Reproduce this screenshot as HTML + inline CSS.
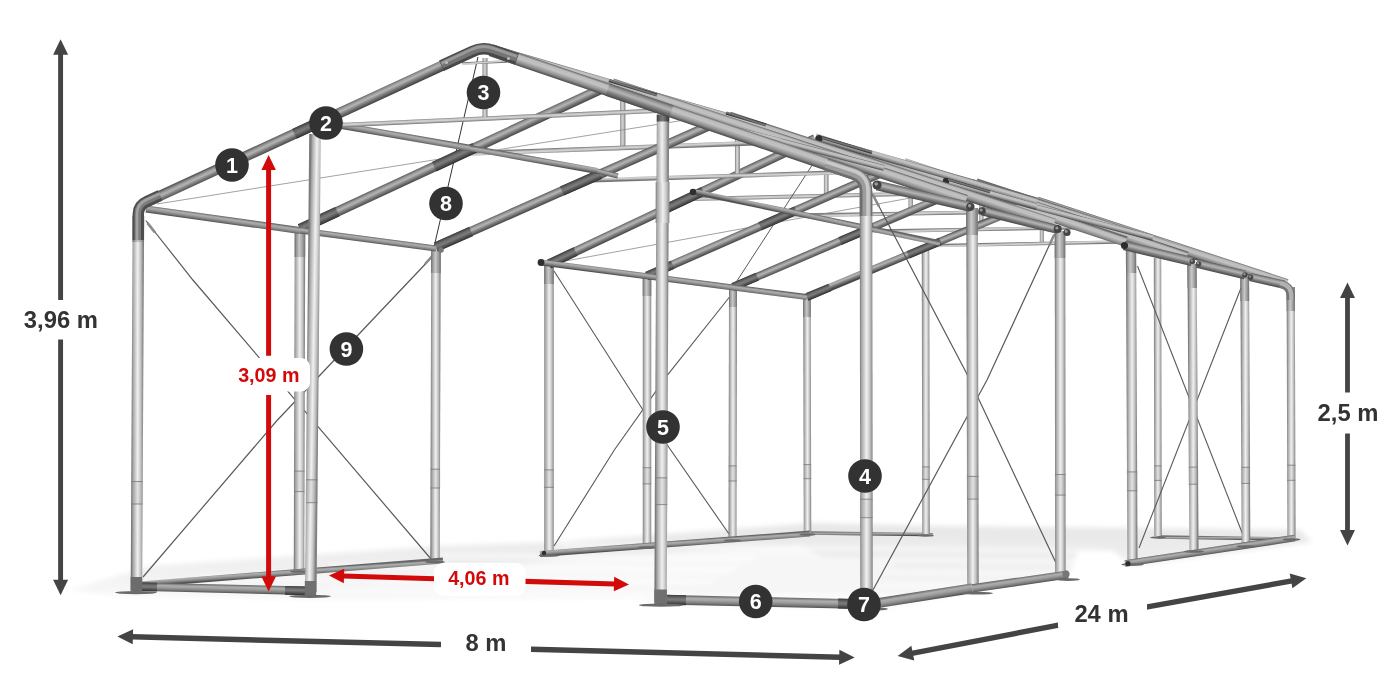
<!DOCTYPE html>
<html lang="pl"><head><meta charset="utf-8"><title>Wymiary konstrukcji hali namiotowej 8 m x 24 m</title>
<style>html,body{margin:0;padding:0;background:#fff}body{width:1400px;height:700px;overflow:hidden}svg{display:block}</style>
</head><body>
<svg width="1400" height="700" viewBox="0 0 1400 700" font-family="'Liberation Sans', Arial, Helvetica, sans-serif" font-weight="bold">
<defs><filter id="blur" x="-10%" y="-30%" width="120%" height="160%"><feGaussianBlur stdDeviation="2.5"/></filter><linearGradient id="flr" x1="0" y1="0" x2="0" y2="1"><stop offset="0" stop-color="#e6e6e6"/><stop offset="0.5" stop-color="#f0f0f0"/><stop offset="1" stop-color="#fbfbfb"/></linearGradient>
<linearGradient id="g1" gradientUnits="userSpaceOnUse" x1="866.0" y1="532.0" x2="866.0" y2="535.5"><stop offset="0" stop-color="#666"/><stop offset="0.28" stop-color="#adadad"/><stop offset="0.48" stop-color="#a2a2a2"/><stop offset="0.78" stop-color="#7c7c7c"/><stop offset="1" stop-color="#525252"/></linearGradient>
<linearGradient id="g2" gradientUnits="userSpaceOnUse" x1="929.1" y1="533.2" x2="928.9" y2="536.1"><stop offset="0" stop-color="#666"/><stop offset="0.28" stop-color="#adadad"/><stop offset="0.48" stop-color="#a2a2a2"/><stop offset="0.78" stop-color="#7c7c7c"/><stop offset="1" stop-color="#525252"/></linearGradient>
<linearGradient id="g3" gradientUnits="userSpaceOnUse" x1="1224.5" y1="536.3" x2="1224.5" y2="539.7"><stop offset="0" stop-color="#666"/><stop offset="0.28" stop-color="#adadad"/><stop offset="0.48" stop-color="#a2a2a2"/><stop offset="0.78" stop-color="#7c7c7c"/><stop offset="1" stop-color="#525252"/></linearGradient>
<linearGradient id="g4" gradientUnits="userSpaceOnUse" x1="922.0" y1="390.0" x2="929.5" y2="390.0"><stop offset="0" stop-color="#7c7c7c"/><stop offset="0.12" stop-color="#a6a6a6"/><stop offset="0.3" stop-color="#c8c8c8"/><stop offset="0.52" stop-color="#f0f0f0"/><stop offset="0.75" stop-color="#cbcbcb"/><stop offset="0.9" stop-color="#a6a6a6"/><stop offset="1" stop-color="#808080"/></linearGradient>
<linearGradient id="g5" gradientUnits="userSpaceOnUse" x1="1154.1" y1="397.0" x2="1161.4" y2="397.0"><stop offset="0" stop-color="#7c7c7c"/><stop offset="0.12" stop-color="#a6a6a6"/><stop offset="0.3" stop-color="#c8c8c8"/><stop offset="0.52" stop-color="#f0f0f0"/><stop offset="0.75" stop-color="#cbcbcb"/><stop offset="0.9" stop-color="#a6a6a6"/><stop offset="1" stop-color="#808080"/></linearGradient>
<linearGradient id="g6" gradientUnits="userSpaceOnUse" x1="1039.8" y1="226.5" x2="1043.8" y2="226.5"><stop offset="0" stop-color="#7e7e7e"/><stop offset="0.3" stop-color="#c8c8c8"/><stop offset="0.55" stop-color="#d2d2d2"/><stop offset="1" stop-color="#767676"/></linearGradient>
<linearGradient id="g7" gradientUnits="userSpaceOnUse" x1="1042.9" y1="241.8" x2="1043.0" y2="245.2"><stop offset="0" stop-color="#7e7e7e"/><stop offset="0.3" stop-color="#c8c8c8"/><stop offset="0.55" stop-color="#d2d2d2"/><stop offset="1" stop-color="#767676"/></linearGradient>
<linearGradient id="g8" gradientUnits="userSpaceOnUse" x1="979.3" y1="210.5" x2="983.5" y2="210.5"><stop offset="0" stop-color="#7e7e7e"/><stop offset="0.3" stop-color="#c8c8c8"/><stop offset="0.55" stop-color="#d2d2d2"/><stop offset="1" stop-color="#767676"/></linearGradient>
<linearGradient id="g9" gradientUnits="userSpaceOnUse" x1="982.5" y1="227.5" x2="982.6" y2="231.1"><stop offset="0" stop-color="#7e7e7e"/><stop offset="0.3" stop-color="#c8c8c8"/><stop offset="0.55" stop-color="#d2d2d2"/><stop offset="1" stop-color="#767676"/></linearGradient>
<linearGradient id="g10" gradientUnits="userSpaceOnUse" x1="908.5" y1="192.7" x2="912.9" y2="192.7"><stop offset="0" stop-color="#7e7e7e"/><stop offset="0.3" stop-color="#c8c8c8"/><stop offset="0.55" stop-color="#d2d2d2"/><stop offset="1" stop-color="#767676"/></linearGradient>
<linearGradient id="g11" gradientUnits="userSpaceOnUse" x1="911.9" y1="211.7" x2="912.0" y2="215.5"><stop offset="0" stop-color="#7e7e7e"/><stop offset="0.3" stop-color="#c8c8c8"/><stop offset="0.55" stop-color="#d2d2d2"/><stop offset="1" stop-color="#767676"/></linearGradient>
<linearGradient id="g12" gradientUnits="userSpaceOnUse" x1="823.9" y1="171.7" x2="828.5" y2="171.7"><stop offset="0" stop-color="#7e7e7e"/><stop offset="0.3" stop-color="#c8c8c8"/><stop offset="0.55" stop-color="#d2d2d2"/><stop offset="1" stop-color="#767676"/></linearGradient>
<linearGradient id="g13" gradientUnits="userSpaceOnUse" x1="827.5" y1="193.8" x2="827.6" y2="197.8"><stop offset="0" stop-color="#7e7e7e"/><stop offset="0.3" stop-color="#c8c8c8"/><stop offset="0.55" stop-color="#d2d2d2"/><stop offset="1" stop-color="#767676"/></linearGradient>
<linearGradient id="g14" gradientUnits="userSpaceOnUse" x1="1287.0" y1="412.5" x2="1295.2" y2="412.5"><stop offset="0" stop-color="#7c7c7c"/><stop offset="0.12" stop-color="#a6a6a6"/><stop offset="0.3" stop-color="#c8c8c8"/><stop offset="0.52" stop-color="#f0f0f0"/><stop offset="0.75" stop-color="#cbcbcb"/><stop offset="0.9" stop-color="#a6a6a6"/><stop offset="1" stop-color="#808080"/></linearGradient>
<linearGradient id="g15" gradientUnits="userSpaceOnUse" x1="1286.6" y1="299.0" x2="1294.8" y2="299.0"><stop offset="0" stop-color="#6a6a6a"/><stop offset="0.2" stop-color="#a0a0a0"/><stop offset="0.45" stop-color="#c8c8c8"/><stop offset="0.72" stop-color="#a4a4a4"/><stop offset="1" stop-color="#707070"/></linearGradient>
<linearGradient id="g16" gradientUnits="userSpaceOnUse" x1="1241.0" y1="411.0" x2="1249.7" y2="411.0"><stop offset="0" stop-color="#7c7c7c"/><stop offset="0.12" stop-color="#a6a6a6"/><stop offset="0.3" stop-color="#c8c8c8"/><stop offset="0.52" stop-color="#f0f0f0"/><stop offset="0.75" stop-color="#cbcbcb"/><stop offset="0.9" stop-color="#a6a6a6"/><stop offset="1" stop-color="#808080"/></linearGradient>
<linearGradient id="g17" gradientUnits="userSpaceOnUse" x1="1240.4" y1="289.0" x2="1249.1" y2="289.0"><stop offset="0" stop-color="#6a6a6a"/><stop offset="0.2" stop-color="#a0a0a0"/><stop offset="0.45" stop-color="#c8c8c8"/><stop offset="0.72" stop-color="#a4a4a4"/><stop offset="1" stop-color="#707070"/></linearGradient>
<linearGradient id="g18" gradientUnits="userSpaceOnUse" x1="1188.4" y1="407.0" x2="1197.6" y2="407.0"><stop offset="0" stop-color="#7c7c7c"/><stop offset="0.12" stop-color="#a6a6a6"/><stop offset="0.3" stop-color="#c8c8c8"/><stop offset="0.52" stop-color="#f0f0f0"/><stop offset="0.75" stop-color="#cbcbcb"/><stop offset="0.9" stop-color="#a6a6a6"/><stop offset="1" stop-color="#808080"/></linearGradient>
<linearGradient id="g19" gradientUnits="userSpaceOnUse" x1="1187.5" y1="276.0" x2="1196.7" y2="276.0"><stop offset="0" stop-color="#6a6a6a"/><stop offset="0.2" stop-color="#a0a0a0"/><stop offset="0.45" stop-color="#c8c8c8"/><stop offset="0.72" stop-color="#a4a4a4"/><stop offset="1" stop-color="#707070"/></linearGradient>
<linearGradient id="g20" gradientUnits="userSpaceOnUse" x1="1126.7" y1="406.0" x2="1136.8" y2="406.0"><stop offset="0" stop-color="#7c7c7c"/><stop offset="0.12" stop-color="#a6a6a6"/><stop offset="0.3" stop-color="#c8c8c8"/><stop offset="0.52" stop-color="#f0f0f0"/><stop offset="0.75" stop-color="#cbcbcb"/><stop offset="0.9" stop-color="#a6a6a6"/><stop offset="1" stop-color="#808080"/></linearGradient>
<linearGradient id="g21" gradientUnits="userSpaceOnUse" x1="1126.0" y1="261.0" x2="1136.2" y2="261.0"><stop offset="0" stop-color="#6a6a6a"/><stop offset="0.2" stop-color="#a0a0a0"/><stop offset="0.45" stop-color="#c8c8c8"/><stop offset="0.72" stop-color="#a4a4a4"/><stop offset="1" stop-color="#707070"/></linearGradient>
<linearGradient id="g22" gradientUnits="userSpaceOnUse" x1="803.5" y1="415.0" x2="811.0" y2="415.0"><stop offset="0" stop-color="#7c7c7c"/><stop offset="0.12" stop-color="#a6a6a6"/><stop offset="0.3" stop-color="#c8c8c8"/><stop offset="0.52" stop-color="#f0f0f0"/><stop offset="0.75" stop-color="#cbcbcb"/><stop offset="0.9" stop-color="#a6a6a6"/><stop offset="1" stop-color="#808080"/></linearGradient>
<linearGradient id="g23" gradientUnits="userSpaceOnUse" x1="803.3" y1="307.0" x2="810.8" y2="307.0"><stop offset="0" stop-color="#6a6a6a"/><stop offset="0.2" stop-color="#a0a0a0"/><stop offset="0.45" stop-color="#c8c8c8"/><stop offset="0.72" stop-color="#a4a4a4"/><stop offset="1" stop-color="#707070"/></linearGradient>
<linearGradient id="g24" gradientUnits="userSpaceOnUse" x1="728.8" y1="413.0" x2="736.7" y2="413.0"><stop offset="0" stop-color="#7c7c7c"/><stop offset="0.12" stop-color="#a6a6a6"/><stop offset="0.3" stop-color="#c8c8c8"/><stop offset="0.52" stop-color="#f0f0f0"/><stop offset="0.75" stop-color="#cbcbcb"/><stop offset="0.9" stop-color="#a6a6a6"/><stop offset="1" stop-color="#808080"/></linearGradient>
<linearGradient id="g25" gradientUnits="userSpaceOnUse" x1="729.0" y1="297.0" x2="737.0" y2="297.0"><stop offset="0" stop-color="#6a6a6a"/><stop offset="0.2" stop-color="#a0a0a0"/><stop offset="0.45" stop-color="#c8c8c8"/><stop offset="0.72" stop-color="#a4a4a4"/><stop offset="1" stop-color="#707070"/></linearGradient>
<linearGradient id="g26" gradientUnits="userSpaceOnUse" x1="642.8" y1="411.0" x2="651.2" y2="411.0"><stop offset="0" stop-color="#7c7c7c"/><stop offset="0.12" stop-color="#a6a6a6"/><stop offset="0.3" stop-color="#c8c8c8"/><stop offset="0.52" stop-color="#f0f0f0"/><stop offset="0.75" stop-color="#cbcbcb"/><stop offset="0.9" stop-color="#a6a6a6"/><stop offset="1" stop-color="#808080"/></linearGradient>
<linearGradient id="g27" gradientUnits="userSpaceOnUse" x1="642.8" y1="286.0" x2="651.2" y2="286.0"><stop offset="0" stop-color="#6a6a6a"/><stop offset="0.2" stop-color="#a0a0a0"/><stop offset="0.45" stop-color="#c8c8c8"/><stop offset="0.72" stop-color="#a4a4a4"/><stop offset="1" stop-color="#707070"/></linearGradient>
<linearGradient id="g28" gradientUnits="userSpaceOnUse" x1="544.2" y1="409.0" x2="553.8" y2="409.0"><stop offset="0" stop-color="#7c7c7c"/><stop offset="0.12" stop-color="#a6a6a6"/><stop offset="0.3" stop-color="#c8c8c8"/><stop offset="0.52" stop-color="#f0f0f0"/><stop offset="0.75" stop-color="#cbcbcb"/><stop offset="0.9" stop-color="#a6a6a6"/><stop offset="1" stop-color="#808080"/></linearGradient>
<linearGradient id="g29" gradientUnits="userSpaceOnUse" x1="544.2" y1="274.0" x2="553.8" y2="274.0"><stop offset="0" stop-color="#6a6a6a"/><stop offset="0.2" stop-color="#a0a0a0"/><stop offset="0.45" stop-color="#c8c8c8"/><stop offset="0.72" stop-color="#a4a4a4"/><stop offset="1" stop-color="#707070"/></linearGradient>
<linearGradient id="g30" gradientUnits="userSpaceOnUse" x1="674.8" y1="540.8" x2="675.2" y2="546.7"><stop offset="0" stop-color="#666"/><stop offset="0.28" stop-color="#adadad"/><stop offset="0.48" stop-color="#a2a2a2"/><stop offset="0.78" stop-color="#7c7c7c"/><stop offset="1" stop-color="#525252"/></linearGradient>
<linearGradient id="g31" gradientUnits="userSpaceOnUse" x1="1209.5" y1="547.4" x2="1210.5" y2="554.1"><stop offset="0" stop-color="#666"/><stop offset="0.28" stop-color="#adadad"/><stop offset="0.48" stop-color="#a2a2a2"/><stop offset="0.78" stop-color="#7c7c7c"/><stop offset="1" stop-color="#525252"/></linearGradient>
<linearGradient id="g32" gradientUnits="userSpaceOnUse" x1="920.6" y1="245.5" x2="923.4" y2="252.5"><stop offset="0" stop-color="#5e5e5e"/><stop offset="0.22" stop-color="#9a9a9a"/><stop offset="0.42" stop-color="#b4b4b4"/><stop offset="0.7" stop-color="#7a7a7a"/><stop offset="1" stop-color="#474747"/></linearGradient>
<linearGradient id="g33" gradientUnits="userSpaceOnUse" x1="817.0" y1="288.6" x2="820.0" y2="295.8"><stop offset="0" stop-color="#3c3c3c"/><stop offset="0.3" stop-color="#6e6e6e"/><stop offset="0.5" stop-color="#7c7c7c"/><stop offset="1" stop-color="#303030"/></linearGradient>
<linearGradient id="g34" gradientUnits="userSpaceOnUse" x1="922.8" y1="244.4" x2="925.8" y2="251.7"><stop offset="0" stop-color="#3c3c3c"/><stop offset="0.3" stop-color="#6e6e6e"/><stop offset="0.5" stop-color="#7c7c7c"/><stop offset="1" stop-color="#303030"/></linearGradient>
<linearGradient id="g35" gradientUnits="userSpaceOnUse" x1="852.9" y1="231.3" x2="856.1" y2="238.7"><stop offset="0" stop-color="#5e5e5e"/><stop offset="0.22" stop-color="#9a9a9a"/><stop offset="0.42" stop-color="#b4b4b4"/><stop offset="0.7" stop-color="#7a7a7a"/><stop offset="1" stop-color="#474747"/></linearGradient>
<linearGradient id="g36" gradientUnits="userSpaceOnUse" x1="743.5" y1="277.9" x2="746.8" y2="285.7"><stop offset="0" stop-color="#3c3c3c"/><stop offset="0.3" stop-color="#6e6e6e"/><stop offset="0.5" stop-color="#7c7c7c"/><stop offset="1" stop-color="#303030"/></linearGradient>
<linearGradient id="g37" gradientUnits="userSpaceOnUse" x1="855.3" y1="230.1" x2="858.6" y2="237.8"><stop offset="0" stop-color="#3c3c3c"/><stop offset="0.3" stop-color="#6e6e6e"/><stop offset="0.5" stop-color="#7c7c7c"/><stop offset="1" stop-color="#303030"/></linearGradient>
<linearGradient id="g38" gradientUnits="userSpaceOnUse" x1="773.8" y1="215.6" x2="777.2" y2="223.4"><stop offset="0" stop-color="#5e5e5e"/><stop offset="0.22" stop-color="#9a9a9a"/><stop offset="0.42" stop-color="#b4b4b4"/><stop offset="0.7" stop-color="#7a7a7a"/><stop offset="1" stop-color="#474747"/></linearGradient>
<linearGradient id="g39" gradientUnits="userSpaceOnUse" x1="658.1" y1="266.3" x2="661.6" y2="274.4"><stop offset="0" stop-color="#3c3c3c"/><stop offset="0.3" stop-color="#6e6e6e"/><stop offset="0.5" stop-color="#7c7c7c"/><stop offset="1" stop-color="#303030"/></linearGradient>
<linearGradient id="g40" gradientUnits="userSpaceOnUse" x1="776.3" y1="214.3" x2="779.9" y2="222.4"><stop offset="0" stop-color="#3c3c3c"/><stop offset="0.3" stop-color="#6e6e6e"/><stop offset="0.5" stop-color="#7c7c7c"/><stop offset="1" stop-color="#303030"/></linearGradient>
<linearGradient id="g41" gradientUnits="userSpaceOnUse" x1="680.1" y1="197.2" x2="683.9" y2="205.3"><stop offset="0" stop-color="#5e5e5e"/><stop offset="0.22" stop-color="#9a9a9a"/><stop offset="0.42" stop-color="#b4b4b4"/><stop offset="0.7" stop-color="#7a7a7a"/><stop offset="1" stop-color="#474747"/></linearGradient>
<linearGradient id="g42" gradientUnits="userSpaceOnUse" x1="560.3" y1="253.5" x2="564.3" y2="262.0"><stop offset="0" stop-color="#3c3c3c"/><stop offset="0.3" stop-color="#6e6e6e"/><stop offset="0.5" stop-color="#7c7c7c"/><stop offset="1" stop-color="#303030"/></linearGradient>
<linearGradient id="g43" gradientUnits="userSpaceOnUse" x1="682.7" y1="195.7" x2="686.7" y2="204.2"><stop offset="0" stop-color="#3c3c3c"/><stop offset="0.3" stop-color="#6e6e6e"/><stop offset="0.5" stop-color="#7c7c7c"/><stop offset="1" stop-color="#303030"/></linearGradient>
<linearGradient id="g44" gradientUnits="userSpaceOnUse" x1="674.4" y1="276.8" x2="673.6" y2="282.7"><stop offset="0" stop-color="#666"/><stop offset="0.28" stop-color="#adadad"/><stop offset="0.48" stop-color="#a2a2a2"/><stop offset="0.78" stop-color="#7c7c7c"/><stop offset="1" stop-color="#525252"/></linearGradient>
<linearGradient id="g45" gradientUnits="userSpaceOnUse" x1="817.6" y1="214.8" x2="816.4" y2="220.2"><stop offset="0" stop-color="#666"/><stop offset="0.28" stop-color="#adadad"/><stop offset="0.48" stop-color="#a2a2a2"/><stop offset="0.78" stop-color="#7c7c7c"/><stop offset="1" stop-color="#525252"/></linearGradient>
<linearGradient id="g46" gradientUnits="userSpaceOnUse" x1="1163.4" y1="238.0" x2="1160.6" y2="246.5"><stop offset="0" stop-color="#6a6a6a"/><stop offset="0.16" stop-color="#bcbcbc"/><stop offset="0.42" stop-color="#c2c2c2"/><stop offset="0.75" stop-color="#8c8c8c"/><stop offset="1" stop-color="#484848"/></linearGradient>
<linearGradient id="g47" gradientUnits="userSpaceOnUse" x1="1109.3" y1="221.7" x2="1106.4" y2="230.8"><stop offset="0" stop-color="#6a6a6a"/><stop offset="0.16" stop-color="#bcbcbc"/><stop offset="0.42" stop-color="#c2c2c2"/><stop offset="0.75" stop-color="#8c8c8c"/><stop offset="1" stop-color="#484848"/></linearGradient>
<linearGradient id="g48" gradientUnits="userSpaceOnUse" x1="1047.1" y1="205.0" x2="1043.9" y2="214.5"><stop offset="0" stop-color="#6a6a6a"/><stop offset="0.16" stop-color="#bcbcbc"/><stop offset="0.42" stop-color="#c2c2c2"/><stop offset="0.75" stop-color="#8c8c8c"/><stop offset="1" stop-color="#484848"/></linearGradient>
<linearGradient id="g49" gradientUnits="userSpaceOnUse" x1="972.2" y1="185.0" x2="968.8" y2="195.0"><stop offset="0" stop-color="#6a6a6a"/><stop offset="0.16" stop-color="#bcbcbc"/><stop offset="0.42" stop-color="#c2c2c2"/><stop offset="0.75" stop-color="#8c8c8c"/><stop offset="1" stop-color="#484848"/></linearGradient>
<linearGradient id="g50" gradientUnits="userSpaceOnUse" x1="1054.7" y1="209.3" x2="1053.3" y2="214.7"><stop offset="0" stop-color="#6a6a6a"/><stop offset="0.16" stop-color="#bcbcbc"/><stop offset="0.42" stop-color="#c2c2c2"/><stop offset="0.75" stop-color="#8c8c8c"/><stop offset="1" stop-color="#484848"/></linearGradient>
<linearGradient id="g51" gradientUnits="userSpaceOnUse" x1="929.0" y1="166.6" x2="927.0" y2="173.4"><stop offset="0" stop-color="#6a6a6a"/><stop offset="0.16" stop-color="#bcbcbc"/><stop offset="0.42" stop-color="#c2c2c2"/><stop offset="0.75" stop-color="#8c8c8c"/><stop offset="1" stop-color="#484848"/></linearGradient>
<linearGradient id="g52" gradientUnits="userSpaceOnUse" x1="992.3" y1="191.1" x2="990.7" y2="196.9"><stop offset="0" stop-color="#6a6a6a"/><stop offset="0.16" stop-color="#bcbcbc"/><stop offset="0.42" stop-color="#c2c2c2"/><stop offset="0.75" stop-color="#8c8c8c"/><stop offset="1" stop-color="#484848"/></linearGradient>
<linearGradient id="g53" gradientUnits="userSpaceOnUse" x1="1159.1" y1="248.9" x2="1156.9" y2="258.1"><stop offset="0" stop-color="#5e5e5e"/><stop offset="0.22" stop-color="#9a9a9a"/><stop offset="0.42" stop-color="#b4b4b4"/><stop offset="0.7" stop-color="#7a7a7a"/><stop offset="1" stop-color="#474747"/></linearGradient>
<linearGradient id="g54" gradientUnits="userSpaceOnUse" x1="1222.0" y1="265.0" x2="1220.0" y2="273.5"><stop offset="0" stop-color="#5e5e5e"/><stop offset="0.22" stop-color="#9a9a9a"/><stop offset="0.42" stop-color="#b4b4b4"/><stop offset="0.7" stop-color="#7a7a7a"/><stop offset="1" stop-color="#474747"/></linearGradient>
<linearGradient id="g55" gradientUnits="userSpaceOnUse" x1="1267.9" y1="276.7" x2="1266.1" y2="284.9"><stop offset="0" stop-color="#5e5e5e"/><stop offset="0.22" stop-color="#9a9a9a"/><stop offset="0.42" stop-color="#b4b4b4"/><stop offset="0.7" stop-color="#7a7a7a"/><stop offset="1" stop-color="#474747"/></linearGradient>
<linearGradient id="g56" gradientUnits="userSpaceOnUse" x1="847.4" y1="143.6" x2="846.6" y2="146.4"><stop offset="0" stop-color="#3c3c3c"/><stop offset="0.3" stop-color="#6e6e6e"/><stop offset="0.5" stop-color="#7c7c7c"/><stop offset="1" stop-color="#303030"/></linearGradient>
<linearGradient id="g57" gradientUnits="userSpaceOnUse" x1="969.4" y1="184.4" x2="968.6" y2="187.1"><stop offset="0" stop-color="#3c3c3c"/><stop offset="0.3" stop-color="#6e6e6e"/><stop offset="0.5" stop-color="#7c7c7c"/><stop offset="1" stop-color="#303030"/></linearGradient>
<linearGradient id="g58" gradientUnits="userSpaceOnUse" x1="735.0" y1="151.0" x2="739.9" y2="151.0"><stop offset="0" stop-color="#7e7e7e"/><stop offset="0.3" stop-color="#c8c8c8"/><stop offset="0.55" stop-color="#d2d2d2"/><stop offset="1" stop-color="#767676"/></linearGradient>
<linearGradient id="g59" gradientUnits="userSpaceOnUse" x1="738.8" y1="173.5" x2="738.9" y2="177.8"><stop offset="0" stop-color="#7e7e7e"/><stop offset="0.3" stop-color="#c8c8c8"/><stop offset="0.55" stop-color="#d2d2d2"/><stop offset="1" stop-color="#767676"/></linearGradient>
<linearGradient id="g60" gradientUnits="userSpaceOnUse" x1="620.2" y1="120.7" x2="625.4" y2="120.7"><stop offset="0" stop-color="#7e7e7e"/><stop offset="0.3" stop-color="#c8c8c8"/><stop offset="0.55" stop-color="#d2d2d2"/><stop offset="1" stop-color="#767676"/></linearGradient>
<linearGradient id="g61" gradientUnits="userSpaceOnUse" x1="624.3" y1="145.5" x2="624.5" y2="150.1"><stop offset="0" stop-color="#7e7e7e"/><stop offset="0.3" stop-color="#c8c8c8"/><stop offset="0.55" stop-color="#d2d2d2"/><stop offset="1" stop-color="#767676"/></linearGradient>
<linearGradient id="g62" gradientUnits="userSpaceOnUse" x1="1055.0" y1="402.5" x2="1065.4" y2="402.5"><stop offset="0" stop-color="#7c7c7c"/><stop offset="0.12" stop-color="#a6a6a6"/><stop offset="0.3" stop-color="#c8c8c8"/><stop offset="0.52" stop-color="#f0f0f0"/><stop offset="0.75" stop-color="#cbcbcb"/><stop offset="0.9" stop-color="#a6a6a6"/><stop offset="1" stop-color="#808080"/></linearGradient>
<linearGradient id="g63" gradientUnits="userSpaceOnUse" x1="1054.8" y1="244.5" x2="1065.3" y2="244.5"><stop offset="0" stop-color="#6a6a6a"/><stop offset="0.2" stop-color="#a0a0a0"/><stop offset="0.45" stop-color="#c8c8c8"/><stop offset="0.72" stop-color="#a4a4a4"/><stop offset="1" stop-color="#707070"/></linearGradient>
<linearGradient id="g64" gradientUnits="userSpaceOnUse" x1="966.8" y1="397.0" x2="978.2" y2="397.0"><stop offset="0" stop-color="#7c7c7c"/><stop offset="0.12" stop-color="#a6a6a6"/><stop offset="0.3" stop-color="#c8c8c8"/><stop offset="0.52" stop-color="#f0f0f0"/><stop offset="0.75" stop-color="#cbcbcb"/><stop offset="0.9" stop-color="#a6a6a6"/><stop offset="1" stop-color="#808080"/></linearGradient>
<linearGradient id="g65" gradientUnits="userSpaceOnUse" x1="966.3" y1="221.5" x2="977.8" y2="221.5"><stop offset="0" stop-color="#6a6a6a"/><stop offset="0.2" stop-color="#a0a0a0"/><stop offset="0.45" stop-color="#c8c8c8"/><stop offset="0.72" stop-color="#a4a4a4"/><stop offset="1" stop-color="#707070"/></linearGradient>
<linearGradient id="g66" gradientUnits="userSpaceOnUse" x1="430.8" y1="403.5" x2="440.2" y2="403.5"><stop offset="0" stop-color="#7c7c7c"/><stop offset="0.12" stop-color="#a6a6a6"/><stop offset="0.3" stop-color="#c8c8c8"/><stop offset="0.52" stop-color="#f0f0f0"/><stop offset="0.75" stop-color="#cbcbcb"/><stop offset="0.9" stop-color="#a6a6a6"/><stop offset="1" stop-color="#808080"/></linearGradient>
<linearGradient id="g67" gradientUnits="userSpaceOnUse" x1="431.2" y1="260.0" x2="440.7" y2="260.0"><stop offset="0" stop-color="#6a6a6a"/><stop offset="0.2" stop-color="#a0a0a0"/><stop offset="0.45" stop-color="#c8c8c8"/><stop offset="0.72" stop-color="#a4a4a4"/><stop offset="1" stop-color="#707070"/></linearGradient>
<linearGradient id="g68" gradientUnits="userSpaceOnUse" x1="294.3" y1="399.5" x2="304.7" y2="399.5"><stop offset="0" stop-color="#7c7c7c"/><stop offset="0.12" stop-color="#a6a6a6"/><stop offset="0.3" stop-color="#c8c8c8"/><stop offset="0.52" stop-color="#f0f0f0"/><stop offset="0.75" stop-color="#cbcbcb"/><stop offset="0.9" stop-color="#a6a6a6"/><stop offset="1" stop-color="#808080"/></linearGradient>
<linearGradient id="g69" gradientUnits="userSpaceOnUse" x1="294.7" y1="243.0" x2="305.2" y2="243.0"><stop offset="0" stop-color="#6a6a6a"/><stop offset="0.2" stop-color="#a0a0a0"/><stop offset="0.45" stop-color="#c8c8c8"/><stop offset="0.72" stop-color="#a4a4a4"/><stop offset="1" stop-color="#707070"/></linearGradient>
<linearGradient id="g70" gradientUnits="userSpaceOnUse" x1="291.3" y1="569.5" x2="291.7" y2="575.5"><stop offset="0" stop-color="#666"/><stop offset="0.28" stop-color="#adadad"/><stop offset="0.48" stop-color="#a2a2a2"/><stop offset="0.78" stop-color="#7c7c7c"/><stop offset="1" stop-color="#525252"/></linearGradient>
<linearGradient id="g71" gradientUnits="userSpaceOnUse" x1="922.2" y1="591.2" x2="923.8" y2="600.8"><stop offset="0" stop-color="#666"/><stop offset="0.28" stop-color="#adadad"/><stop offset="0.48" stop-color="#a2a2a2"/><stop offset="0.78" stop-color="#7c7c7c"/><stop offset="1" stop-color="#525252"/></linearGradient>
<linearGradient id="g72" gradientUnits="userSpaceOnUse" x1="1019.4" y1="577.4" x2="1020.6" y2="585.5"><stop offset="0" stop-color="#666"/><stop offset="0.28" stop-color="#adadad"/><stop offset="0.48" stop-color="#a2a2a2"/><stop offset="0.78" stop-color="#7c7c7c"/><stop offset="1" stop-color="#525252"/></linearGradient>
<linearGradient id="g73" gradientUnits="userSpaceOnUse" x1="580.6" y1="177.7" x2="584.4" y2="186.3"><stop offset="0" stop-color="#5e5e5e"/><stop offset="0.22" stop-color="#9a9a9a"/><stop offset="0.42" stop-color="#b4b4b4"/><stop offset="0.7" stop-color="#7a7a7a"/><stop offset="1" stop-color="#474747"/></linearGradient>
<linearGradient id="g74" gradientUnits="userSpaceOnUse" x1="451.6" y1="234.7" x2="455.6" y2="243.7"><stop offset="0" stop-color="#3c3c3c"/><stop offset="0.3" stop-color="#6e6e6e"/><stop offset="0.5" stop-color="#7c7c7c"/><stop offset="1" stop-color="#303030"/></linearGradient>
<linearGradient id="g75" gradientUnits="userSpaceOnUse" x1="579.0" y1="178.1" x2="583.0" y2="187.2"><stop offset="0" stop-color="#3c3c3c"/><stop offset="0.3" stop-color="#6e6e6e"/><stop offset="0.5" stop-color="#7c7c7c"/><stop offset="1" stop-color="#303030"/></linearGradient>
<linearGradient id="g76" gradientUnits="userSpaceOnUse" x1="453.9" y1="152.0" x2="458.1" y2="161.0"><stop offset="0" stop-color="#5e5e5e"/><stop offset="0.22" stop-color="#9a9a9a"/><stop offset="0.42" stop-color="#b4b4b4"/><stop offset="0.7" stop-color="#7a7a7a"/><stop offset="1" stop-color="#474747"/></linearGradient>
<linearGradient id="g77" gradientUnits="userSpaceOnUse" x1="316.5" y1="215.6" x2="320.9" y2="225.0"><stop offset="0" stop-color="#3c3c3c"/><stop offset="0.3" stop-color="#6e6e6e"/><stop offset="0.5" stop-color="#7c7c7c"/><stop offset="1" stop-color="#303030"/></linearGradient>
<linearGradient id="g78" gradientUnits="userSpaceOnUse" x1="452.2" y1="152.5" x2="456.6" y2="161.9"><stop offset="0" stop-color="#3c3c3c"/><stop offset="0.3" stop-color="#6e6e6e"/><stop offset="0.5" stop-color="#7c7c7c"/><stop offset="1" stop-color="#303030"/></linearGradient>
<linearGradient id="g79" gradientUnits="userSpaceOnUse" x1="395.6" y1="131.7" x2="394.4" y2="138.3"><stop offset="0" stop-color="#666"/><stop offset="0.28" stop-color="#adadad"/><stop offset="0.48" stop-color="#a2a2a2"/><stop offset="0.78" stop-color="#7c7c7c"/><stop offset="1" stop-color="#525252"/></linearGradient>
<linearGradient id="g80" gradientUnits="userSpaceOnUse" x1="534.0" y1="156.5" x2="533.0" y2="162.5"><stop offset="0" stop-color="#666"/><stop offset="0.28" stop-color="#adadad"/><stop offset="0.48" stop-color="#a2a2a2"/><stop offset="0.78" stop-color="#7c7c7c"/><stop offset="1" stop-color="#525252"/></linearGradient>
<linearGradient id="g81" gradientUnits="userSpaceOnUse" x1="608.1" y1="171.1" x2="606.9" y2="175.9"><stop offset="0" stop-color="#666"/><stop offset="0.28" stop-color="#adadad"/><stop offset="0.48" stop-color="#a2a2a2"/><stop offset="0.78" stop-color="#7c7c7c"/><stop offset="1" stop-color="#525252"/></linearGradient>
<linearGradient id="g82" gradientUnits="userSpaceOnUse" x1="223.5" y1="216.3" x2="222.5" y2="223.2"><stop offset="0" stop-color="#666"/><stop offset="0.28" stop-color="#adadad"/><stop offset="0.48" stop-color="#a2a2a2"/><stop offset="0.78" stop-color="#7c7c7c"/><stop offset="1" stop-color="#525252"/></linearGradient>
<linearGradient id="g83" gradientUnits="userSpaceOnUse" x1="368.4" y1="236.5" x2="367.6" y2="242.5"><stop offset="0" stop-color="#666"/><stop offset="0.28" stop-color="#adadad"/><stop offset="0.48" stop-color="#a2a2a2"/><stop offset="0.78" stop-color="#7c7c7c"/><stop offset="1" stop-color="#525252"/></linearGradient>
<linearGradient id="g84" gradientUnits="userSpaceOnUse" x1="552.9" y1="62.4" x2="551.1" y2="68.6"><stop offset="0" stop-color="#6a6a6a"/><stop offset="0.16" stop-color="#bcbcbc"/><stop offset="0.42" stop-color="#c2c2c2"/><stop offset="0.75" stop-color="#8c8c8c"/><stop offset="1" stop-color="#484848"/></linearGradient>
<linearGradient id="g85" gradientUnits="userSpaceOnUse" x1="671.4" y1="96.6" x2="669.6" y2="102.9"><stop offset="0" stop-color="#6a6a6a"/><stop offset="0.16" stop-color="#bcbcbc"/><stop offset="0.42" stop-color="#c2c2c2"/><stop offset="0.75" stop-color="#8c8c8c"/><stop offset="1" stop-color="#484848"/></linearGradient>
<linearGradient id="g86" gradientUnits="userSpaceOnUse" x1="893.2" y1="165.3" x2="889.8" y2="175.7"><stop offset="0" stop-color="#6a6a6a"/><stop offset="0.16" stop-color="#bcbcbc"/><stop offset="0.42" stop-color="#c2c2c2"/><stop offset="0.75" stop-color="#8c8c8c"/><stop offset="1" stop-color="#484848"/></linearGradient>
<linearGradient id="g87" gradientUnits="userSpaceOnUse" x1="790.8" y1="136.8" x2="787.2" y2="147.7"><stop offset="0" stop-color="#6a6a6a"/><stop offset="0.16" stop-color="#bcbcbc"/><stop offset="0.42" stop-color="#c2c2c2"/><stop offset="0.75" stop-color="#8c8c8c"/><stop offset="1" stop-color="#484848"/></linearGradient>
<linearGradient id="g88" gradientUnits="userSpaceOnUse" x1="633.5" y1="86.2" x2="632.5" y2="89.3"><stop offset="0" stop-color="#3c3c3c"/><stop offset="0.3" stop-color="#6e6e6e"/><stop offset="0.5" stop-color="#7c7c7c"/><stop offset="1" stop-color="#303030"/></linearGradient>
<linearGradient id="g89" gradientUnits="userSpaceOnUse" x1="746.5" y1="117.5" x2="745.5" y2="120.5"><stop offset="0" stop-color="#3c3c3c"/><stop offset="0.3" stop-color="#6e6e6e"/><stop offset="0.5" stop-color="#7c7c7c"/><stop offset="1" stop-color="#303030"/></linearGradient>
<linearGradient id="g90" gradientUnits="userSpaceOnUse" x1="724.7" y1="124.1" x2="723.3" y2="129.9"><stop offset="0" stop-color="#6a6a6a"/><stop offset="0.16" stop-color="#bcbcbc"/><stop offset="0.42" stop-color="#c2c2c2"/><stop offset="0.75" stop-color="#8c8c8c"/><stop offset="1" stop-color="#484848"/></linearGradient>
<linearGradient id="g91" gradientUnits="userSpaceOnUse" x1="832.7" y1="151.8" x2="831.3" y2="157.2"><stop offset="0" stop-color="#6a6a6a"/><stop offset="0.16" stop-color="#bcbcbc"/><stop offset="0.42" stop-color="#c2c2c2"/><stop offset="0.75" stop-color="#8c8c8c"/><stop offset="1" stop-color="#484848"/></linearGradient>
<linearGradient id="g92" gradientUnits="userSpaceOnUse" x1="924.8" y1="191.4" x2="922.6" y2="201.1"><stop offset="0" stop-color="#5e5e5e"/><stop offset="0.22" stop-color="#9a9a9a"/><stop offset="0.42" stop-color="#b4b4b4"/><stop offset="0.7" stop-color="#7a7a7a"/><stop offset="1" stop-color="#474747"/></linearGradient>
<linearGradient id="g93" gradientUnits="userSpaceOnUse" x1="1021.1" y1="215.9" x2="1018.9" y2="224.6"><stop offset="0" stop-color="#5e5e5e"/><stop offset="0.22" stop-color="#9a9a9a"/><stop offset="0.42" stop-color="#b4b4b4"/><stop offset="0.7" stop-color="#7a7a7a"/><stop offset="1" stop-color="#474747"/></linearGradient>
<linearGradient id="g94" gradientUnits="userSpaceOnUse" x1="491.9" y1="116.0" x2="492.1" y2="120.5"><stop offset="0" stop-color="#7e7e7e"/><stop offset="0.3" stop-color="#c8c8c8"/><stop offset="0.55" stop-color="#d2d2d2"/><stop offset="1" stop-color="#767676"/></linearGradient>
<linearGradient id="g95" gradientUnits="userSpaceOnUse" x1="482.5" y1="87.5" x2="487.5" y2="87.5"><stop offset="0" stop-color="#7e7e7e"/><stop offset="0.3" stop-color="#c8c8c8"/><stop offset="0.55" stop-color="#d2d2d2"/><stop offset="1" stop-color="#767676"/></linearGradient>
<linearGradient id="g96" gradientUnits="userSpaceOnUse" x1="484.4" y1="61.2" x2="484.6" y2="63.8"><stop offset="0" stop-color="#7e7e7e"/><stop offset="0.3" stop-color="#c8c8c8"/><stop offset="0.55" stop-color="#d2d2d2"/><stop offset="1" stop-color="#767676"/></linearGradient>
<linearGradient id="g97" gradientUnits="userSpaceOnUse" x1="655.6" y1="358.5" x2="667.9" y2="358.5"><stop offset="0" stop-color="#7c7c7c"/><stop offset="0.12" stop-color="#a6a6a6"/><stop offset="0.3" stop-color="#c8c8c8"/><stop offset="0.52" stop-color="#f0f0f0"/><stop offset="0.75" stop-color="#cbcbcb"/><stop offset="0.9" stop-color="#a6a6a6"/><stop offset="1" stop-color="#808080"/></linearGradient>
<linearGradient id="g98" gradientUnits="userSpaceOnUse" x1="656.8" y1="118.0" x2="669.2" y2="118.0"><stop offset="0" stop-color="#3c3c3c"/><stop offset="0.3" stop-color="#6e6e6e"/><stop offset="0.5" stop-color="#7c7c7c"/><stop offset="1" stop-color="#303030"/></linearGradient>
<linearGradient id="g99" gradientUnits="userSpaceOnUse" x1="655.7" y1="202.5" x2="669.4" y2="202.5"><stop offset="0" stop-color="#7c7c7c"/><stop offset="0.12" stop-color="#a6a6a6"/><stop offset="0.3" stop-color="#c8c8c8"/><stop offset="0.52" stop-color="#f0f0f0"/><stop offset="0.75" stop-color="#cbcbcb"/><stop offset="0.9" stop-color="#a6a6a6"/><stop offset="1" stop-color="#808080"/></linearGradient>
<linearGradient id="g100" gradientUnits="userSpaceOnUse" x1="307.1" y1="362.9" x2="318.7" y2="363.1"><stop offset="0" stop-color="#7c7c7c"/><stop offset="0.12" stop-color="#a6a6a6"/><stop offset="0.3" stop-color="#c8c8c8"/><stop offset="0.52" stop-color="#f0f0f0"/><stop offset="0.75" stop-color="#cbcbcb"/><stop offset="0.9" stop-color="#a6a6a6"/><stop offset="1" stop-color="#808080"/></linearGradient>
<linearGradient id="g101" gradientUnits="userSpaceOnUse" x1="860.0" y1="396.5" x2="872.5" y2="396.5"><stop offset="0" stop-color="#7c7c7c"/><stop offset="0.12" stop-color="#a6a6a6"/><stop offset="0.3" stop-color="#c8c8c8"/><stop offset="0.52" stop-color="#f0f0f0"/><stop offset="0.75" stop-color="#cbcbcb"/><stop offset="0.9" stop-color="#a6a6a6"/><stop offset="1" stop-color="#808080"/></linearGradient>
<linearGradient id="g102" gradientUnits="userSpaceOnUse" x1="131.7" y1="403.0" x2="143.1" y2="403.0"><stop offset="0" stop-color="#7c7c7c"/><stop offset="0.12" stop-color="#a6a6a6"/><stop offset="0.3" stop-color="#c8c8c8"/><stop offset="0.52" stop-color="#f0f0f0"/><stop offset="0.75" stop-color="#cbcbcb"/><stop offset="0.9" stop-color="#a6a6a6"/><stop offset="1" stop-color="#808080"/></linearGradient>
<linearGradient id="g103" gradientUnits="userSpaceOnUse" x1="132.6" y1="229.0" x2="144.1" y2="229.0"><stop offset="0" stop-color="#6a6a6a"/><stop offset="0.2" stop-color="#a0a0a0"/><stop offset="0.45" stop-color="#c8c8c8"/><stop offset="0.72" stop-color="#a4a4a4"/><stop offset="1" stop-color="#707070"/></linearGradient>
<linearGradient id="g104" gradientUnits="userSpaceOnUse" x1="676.0" y1="106.4" x2="672.0" y2="118.2"><stop offset="0" stop-color="#6a6a6a"/><stop offset="0.16" stop-color="#bcbcbc"/><stop offset="0.42" stop-color="#c2c2c2"/><stop offset="0.75" stop-color="#8c8c8c"/><stop offset="1" stop-color="#484848"/></linearGradient>
<linearGradient id="g105" gradientUnits="userSpaceOnUse" x1="641.6" y1="94.4" x2="637.4" y2="106.7"><stop offset="0" stop-color="#5e5e5e"/><stop offset="0.22" stop-color="#9a9a9a"/><stop offset="0.42" stop-color="#b4b4b4"/><stop offset="0.7" stop-color="#7a7a7a"/><stop offset="1" stop-color="#474747"/></linearGradient>
<linearGradient id="g106" gradientUnits="userSpaceOnUse" x1="308.3" y1="121.7" x2="312.7" y2="131.1"><stop offset="0" stop-color="#5e5e5e"/><stop offset="0.22" stop-color="#9a9a9a"/><stop offset="0.42" stop-color="#b4b4b4"/><stop offset="0.7" stop-color="#7a7a7a"/><stop offset="1" stop-color="#474747"/></linearGradient>
<linearGradient id="g107" gradientUnits="userSpaceOnUse" x1="307.2" y1="122.0" x2="311.7" y2="131.8"><stop offset="0" stop-color="#3c3c3c"/><stop offset="0.3" stop-color="#6e6e6e"/><stop offset="0.5" stop-color="#7c7c7c"/><stop offset="1" stop-color="#303030"/></linearGradient>
<linearGradient id="g108" gradientUnits="userSpaceOnUse" x1="221.6" y1="584.5" x2="221.4" y2="592.9"><stop offset="0" stop-color="#666"/><stop offset="0.28" stop-color="#adadad"/><stop offset="0.48" stop-color="#a2a2a2"/><stop offset="0.78" stop-color="#7c7c7c"/><stop offset="1" stop-color="#525252"/></linearGradient>
<linearGradient id="g109" gradientUnits="userSpaceOnUse" x1="147.1" y1="582.5" x2="146.9" y2="591.2"><stop offset="0" stop-color="#3c3c3c"/><stop offset="0.3" stop-color="#6e6e6e"/><stop offset="0.5" stop-color="#7c7c7c"/><stop offset="1" stop-color="#303030"/></linearGradient>
<linearGradient id="g110" gradientUnits="userSpaceOnUse" x1="295.6" y1="586.2" x2="295.4" y2="594.9"><stop offset="0" stop-color="#3c3c3c"/><stop offset="0.3" stop-color="#6e6e6e"/><stop offset="0.5" stop-color="#7c7c7c"/><stop offset="1" stop-color="#303030"/></linearGradient>
<linearGradient id="g111" gradientUnits="userSpaceOnUse" x1="764.1" y1="597.2" x2="763.9" y2="606.7"><stop offset="0" stop-color="#666"/><stop offset="0.28" stop-color="#adadad"/><stop offset="0.48" stop-color="#a2a2a2"/><stop offset="0.78" stop-color="#7c7c7c"/><stop offset="1" stop-color="#525252"/></linearGradient>
<linearGradient id="g112" gradientUnits="userSpaceOnUse" x1="676.6" y1="595.0" x2="676.4" y2="604.9"><stop offset="0" stop-color="#3c3c3c"/><stop offset="0.3" stop-color="#6e6e6e"/><stop offset="0.5" stop-color="#7c7c7c"/><stop offset="1" stop-color="#303030"/></linearGradient>
<linearGradient id="g113" gradientUnits="userSpaceOnUse" x1="848.1" y1="598.9" x2="847.9" y2="608.8"><stop offset="0" stop-color="#3c3c3c"/><stop offset="0.3" stop-color="#6e6e6e"/><stop offset="0.5" stop-color="#7c7c7c"/><stop offset="1" stop-color="#303030"/></linearGradient>
</defs>
<rect width="1400" height="700" fill="#fff"/>
<g id="floor">
<g filter="url(#blur)"><polygon points="70,590 150,566 440,546 560,542 815,523 935,526 1300,530 1312,542 1132,566 1112,550 1078,552 1070,572 885,610 655,606 640,598 330,600 120,596" fill="url(#flr)"/><polygon points="360,585 560,560 800,545 850,572 650,588" fill="#f8f8f8"/><g stroke="#fff" stroke-width="3.2" opacity="0.75"><line x1="560" y1="545" x2="1100" y2="551"/><line x1="440" y1="555" x2="1095" y2="562"/><line x1="330" y1="566" x2="1085" y2="574"/><line x1="200" y1="577" x2="1000" y2="586"/><line x1="330" y1="590" x2="900" y2="597"/></g><polygon points="690,596 860,590 900,560 760,556" fill="#f6f6f6"/></g>
</g>
<g id="rear">
<line x1="807.0" y1="533.0" x2="925.0" y2="534.5" stroke="url(#g1)" stroke-width="3.5" stroke-linecap="butt"/>
<line x1="925.0" y1="534.5" x2="933.0" y2="534.8" stroke="url(#g2)" stroke-width="3.0" stroke-linecap="butt"/>
<line x1="1158.0" y1="537.0" x2="1291.0" y2="539.0" stroke="url(#g3)" stroke-width="3.5" stroke-linecap="butt"/>
<line x1="925.5" y1="246.0" x2="926.0" y2="534.0" stroke="url(#g4)" stroke-width="7.5" stroke-linecap="butt"/>
<line x1="925.9" y1="466.9" x2="925.9" y2="479.3" stroke="#9c9c9c" stroke-width="8.5" opacity="0.16"/>
<line x1="922.1" y1="466.9" x2="929.6" y2="466.9" stroke="#777" stroke-width="0.8"/>
<line x1="922.1" y1="479.3" x2="929.6" y2="479.3" stroke="#777" stroke-width="0.8"/>
<line x1="1157.5" y1="258.0" x2="1158.0" y2="536.0" stroke="url(#g5)" stroke-width="7.4" stroke-linecap="butt"/>
<line x1="1157.9" y1="465.9" x2="1157.9" y2="480.4" stroke="#9c9c9c" stroke-width="8.4" opacity="0.16"/>
<line x1="1154.2" y1="465.9" x2="1161.6" y2="465.9" stroke="#777" stroke-width="0.8"/>
<line x1="1154.2" y1="480.4" x2="1161.6" y2="480.4" stroke="#777" stroke-width="0.8"/>
<line x1="1041.8" y1="209.3" x2="1041.8" y2="243.6" stroke="url(#g6)" stroke-width="4.0" stroke-linecap="butt"/>
<line x1="930.0" y1="245.6" x2="1155.9" y2="241.4" stroke="url(#g7)" stroke-width="3.4" stroke-linecap="butt"/>
<line x1="981.4" y1="191.6" x2="981.4" y2="229.3" stroke="url(#g8)" stroke-width="4.2" stroke-linecap="butt"/>
<line x1="863.0" y1="231.4" x2="1102.1" y2="227.3" stroke="url(#g9)" stroke-width="3.6" stroke-linecap="butt"/>
<line x1="910.7" y1="171.8" x2="910.7" y2="213.6" stroke="url(#g10)" stroke-width="4.4" stroke-linecap="butt"/>
<line x1="784.5" y1="215.5" x2="1039.4" y2="211.6" stroke="url(#g11)" stroke-width="3.8" stroke-linecap="butt"/>
<line x1="826.2" y1="147.6" x2="826.2" y2="195.8" stroke="url(#g12)" stroke-width="4.6" stroke-linecap="butt"/>
<line x1="691.3" y1="198.9" x2="963.8" y2="192.7" stroke="url(#g13)" stroke-width="4.0" stroke-linecap="butt"/>
<polyline points="554,271 643,410 729,534" fill="none" stroke="#5a5a5a" stroke-width="1.1"/>
<polyline points="729.5,297 667,375.7 614.3,450 554,546" fill="none" stroke="#5a5a5a" stroke-width="1.1"/>
<line x1="1137.5" y1="266.0" x2="1243.0" y2="535.0" stroke="#5a5a5a" stroke-width="1.10"/>
<line x1="1241.0" y1="288.0" x2="1139.0" y2="548.0" stroke="#5a5a5a" stroke-width="1.10"/>
<line x1="1290.7" y1="287.0" x2="1291.5" y2="538.0" stroke="url(#g14)" stroke-width="8.2" stroke-linecap="butt"/>
<line x1="1290.7" y1="287.0" x2="1290.8" y2="311.0" stroke="url(#g15)" stroke-width="8.2" stroke-linecap="butt"/>
<line x1="1291.3" y1="465.2" x2="1291.3" y2="480.3" stroke="#9c9c9c" stroke-width="9.2" opacity="0.16"/>
<line x1="1287.2" y1="465.2" x2="1295.4" y2="465.2" stroke="#777" stroke-width="0.8"/>
<line x1="1287.2" y1="480.3" x2="1295.4" y2="480.3" stroke="#777" stroke-width="0.8"/>
<line x1="1244.7" y1="277.0" x2="1246.0" y2="545.0" stroke="url(#g16)" stroke-width="8.7" stroke-linecap="butt"/>
<line x1="1244.7" y1="277.0" x2="1244.8" y2="301.0" stroke="url(#g17)" stroke-width="8.7" stroke-linecap="butt"/>
<line x1="1245.6" y1="467.3" x2="1245.6" y2="483.4" stroke="#9c9c9c" stroke-width="9.7" opacity="0.16"/>
<line x1="1241.3" y1="467.3" x2="1250.0" y2="467.3" stroke="#777" stroke-width="0.8"/>
<line x1="1241.3" y1="483.4" x2="1250.0" y2="483.4" stroke="#777" stroke-width="0.8"/>
<line x1="1192.0" y1="264.0" x2="1194.0" y2="550.0" stroke="url(#g18)" stroke-width="9.2" stroke-linecap="butt"/>
<line x1="1192.0" y1="264.0" x2="1192.2" y2="288.0" stroke="url(#g19)" stroke-width="9.2" stroke-linecap="butt"/>
<line x1="1193.4" y1="467.1" x2="1193.4" y2="484.2" stroke="#9c9c9c" stroke-width="10.2" opacity="0.16"/>
<line x1="1188.8" y1="467.1" x2="1198.0" y2="467.1" stroke="#777" stroke-width="0.8"/>
<line x1="1188.8" y1="484.2" x2="1198.0" y2="484.2" stroke="#777" stroke-width="0.8"/>
<line x1="1131.0" y1="249.0" x2="1132.5" y2="563.0" stroke="url(#g20)" stroke-width="10.2" stroke-linecap="butt"/>
<line x1="1131.0" y1="249.0" x2="1131.1" y2="273.0" stroke="url(#g21)" stroke-width="10.2" stroke-linecap="butt"/>
<line x1="1132.1" y1="471.9" x2="1132.1" y2="490.8" stroke="#9c9c9c" stroke-width="11.2" opacity="0.16"/>
<line x1="1127.0" y1="471.9" x2="1137.2" y2="471.9" stroke="#777" stroke-width="0.8"/>
<line x1="1127.0" y1="490.8" x2="1137.2" y2="490.8" stroke="#777" stroke-width="0.8"/>
<line x1="807.0" y1="297.0" x2="807.5" y2="533.0" stroke="url(#g22)" stroke-width="7.5" stroke-linecap="butt"/>
<line x1="807.0" y1="297.0" x2="807.0" y2="317.0" stroke="url(#g23)" stroke-width="7.5" stroke-linecap="butt"/>
<line x1="807.4" y1="464.6" x2="807.4" y2="478.7" stroke="#9c9c9c" stroke-width="8.5" opacity="0.16"/>
<line x1="803.6" y1="464.6" x2="811.1" y2="464.6" stroke="#777" stroke-width="0.8"/>
<line x1="803.6" y1="478.7" x2="811.1" y2="478.7" stroke="#777" stroke-width="0.8"/>
<line x1="733.0" y1="287.0" x2="732.5" y2="539.0" stroke="url(#g24)" stroke-width="8.0" stroke-linecap="butt"/>
<line x1="733.0" y1="287.0" x2="733.0" y2="307.0" stroke="url(#g25)" stroke-width="8.0" stroke-linecap="butt"/>
<line x1="732.6" y1="465.9" x2="732.6" y2="481.0" stroke="#9c9c9c" stroke-width="9.0" opacity="0.16"/>
<line x1="728.6" y1="465.9" x2="736.6" y2="465.9" stroke="#777" stroke-width="0.8"/>
<line x1="728.6" y1="481.0" x2="736.6" y2="481.0" stroke="#777" stroke-width="0.8"/>
<line x1="647.0" y1="276.0" x2="647.0" y2="546.0" stroke="url(#g26)" stroke-width="8.5" stroke-linecap="butt"/>
<line x1="647.0" y1="276.0" x2="647.0" y2="296.0" stroke="url(#g27)" stroke-width="8.5" stroke-linecap="butt"/>
<line x1="647.0" y1="467.7" x2="647.0" y2="483.9" stroke="#9c9c9c" stroke-width="9.5" opacity="0.16"/>
<line x1="642.8" y1="467.7" x2="651.2" y2="467.7" stroke="#777" stroke-width="0.8"/>
<line x1="642.8" y1="483.9" x2="651.2" y2="483.9" stroke="#777" stroke-width="0.8"/>
<line x1="549.0" y1="264.0" x2="549.0" y2="554.0" stroke="url(#g28)" stroke-width="9.5" stroke-linecap="butt"/>
<line x1="549.0" y1="264.0" x2="549.0" y2="284.0" stroke="url(#g29)" stroke-width="9.5" stroke-linecap="butt"/>
<line x1="549.0" y1="469.9" x2="549.0" y2="487.3" stroke="#9c9c9c" stroke-width="10.5" opacity="0.16"/>
<line x1="544.2" y1="469.9" x2="553.8" y2="469.9" stroke="#777" stroke-width="0.8"/>
<line x1="544.2" y1="487.3" x2="553.8" y2="487.3" stroke="#777" stroke-width="0.8"/>
<line x1="540.0" y1="554.0" x2="810.0" y2="533.5" stroke="url(#g30)" stroke-width="6.0" stroke-linecap="butt"/>
<line x1="1125.0" y1="563.5" x2="1295.0" y2="538.0" stroke="url(#g31)" stroke-width="6.8" stroke-linecap="butt"/>
<ellipse cx="549.0" cy="555.5" rx="10.5" ry="1.3" fill="#6a6a6a"/>
<ellipse cx="1132.5" cy="564.5" rx="11.4" ry="1.3" fill="#6a6a6a"/>
<ellipse cx="647.0" cy="547.5" rx="9.4" ry="1.3" fill="#6a6a6a"/>
<ellipse cx="1194.0" cy="551.5" rx="10.2" ry="1.3" fill="#6a6a6a"/>
<ellipse cx="732.5" cy="540.5" rx="8.8" ry="1.3" fill="#6a6a6a"/>
<ellipse cx="1246.0" cy="546.5" rx="9.6" ry="1.3" fill="#6a6a6a"/>
<ellipse cx="807.5" cy="534.5" rx="8.2" ry="1.3" fill="#6a6a6a"/>
<ellipse cx="1291.5" cy="539.5" rx="9.0" ry="1.3" fill="#6a6a6a"/>
<ellipse cx="926.0" cy="535.5" rx="8.0" ry="1.2" fill="#6a6a6a"/>
<ellipse cx="1158.0" cy="537.5" rx="8.0" ry="1.2" fill="#6a6a6a"/>
<circle cx="1128.0" cy="563.5" r="2.6" fill="#2e2e2e"/>
<circle cx="544.0" cy="553.0" r="2.2" fill="#2e2e2e"/>
<line x1="733.0" y1="287.0" x2="822.0" y2="150.0" stroke="#5a5a5a" stroke-width="1.00"/>
<line x1="560.0" y1="262.0" x2="976.0" y2="186.0" stroke="#8a8a8a" stroke-width="0.80"/>
<line x1="807.0" y1="297.0" x2="1037.0" y2="201.0" stroke="url(#g32)" stroke-width="7.5" stroke-linecap="butt"/>
<line x1="807.0" y1="297.0" x2="830.0" y2="287.4" stroke="url(#g33)" stroke-width="7.9" stroke-linecap="butt"/>
<line x1="908.2" y1="254.8" x2="940.4" y2="241.3" stroke="url(#g34)" stroke-width="7.9" stroke-linecap="butt"/>
<line x1="733.0" y1="287.0" x2="976.0" y2="183.0" stroke="url(#g35)" stroke-width="8.0" stroke-linecap="butt"/>
<line x1="733.0" y1="287.0" x2="757.3" y2="276.6" stroke="url(#g36)" stroke-width="8.4" stroke-linecap="butt"/>
<line x1="839.9" y1="241.2" x2="873.9" y2="226.7" stroke="url(#g37)" stroke-width="8.4" stroke-linecap="butt"/>
<line x1="647.0" y1="276.0" x2="904.0" y2="163.0" stroke="url(#g38)" stroke-width="8.5" stroke-linecap="butt"/>
<line x1="647.0" y1="276.0" x2="672.7" y2="264.7" stroke="url(#g39)" stroke-width="8.9" stroke-linecap="butt"/>
<line x1="760.1" y1="226.3" x2="796.1" y2="210.5" stroke="url(#g40)" stroke-width="8.9" stroke-linecap="butt"/>
<line x1="549.0" y1="264.0" x2="815.0" y2="138.5" stroke="url(#g41)" stroke-width="9.0" stroke-linecap="butt"/>
<line x1="549.0" y1="264.0" x2="575.6" y2="251.4" stroke="url(#g42)" stroke-width="9.4" stroke-linecap="butt"/>
<line x1="666.0" y1="208.8" x2="703.3" y2="191.2" stroke="url(#g43)" stroke-width="9.4" stroke-linecap="butt"/>
<line x1="541.0" y1="262.5" x2="807.0" y2="297.0" stroke="url(#g44)" stroke-width="6.0" stroke-linecap="butt"/>
<circle cx="541.0" cy="262.5" r="3.4" fill="#2e2e2e"/>
<line x1="694.0" y1="192.0" x2="940.0" y2="243.0" stroke="url(#g45)" stroke-width="5.5" stroke-linecap="butt"/>
<circle cx="693.0" cy="192.0" r="3.2" fill="#2e2e2e"/>
<line x1="1037.0" y1="201.0" x2="1287.0" y2="283.5" stroke="url(#g46)" stroke-width="9.0" stroke-linecap="butt"/>
<line x1="976.0" y1="183.0" x2="1239.7" y2="269.5" stroke="url(#g47)" stroke-width="9.5" stroke-linecap="butt"/>
<line x1="904.0" y1="163.0" x2="1187.0" y2="256.5" stroke="url(#g48)" stroke-width="10.0" stroke-linecap="butt"/>
<line x1="815.0" y1="138.5" x2="1126.0" y2="241.5" stroke="url(#g49)" stroke-width="10.5" stroke-linecap="butt"/>
<line x1="955.0" y1="186.0" x2="1153.0" y2="238.0" stroke="url(#g50)" stroke-width="5.5" stroke-linecap="butt"/>
<line x1="819.0" y1="139.0" x2="1037.0" y2="201.0" stroke="url(#g51)" stroke-width="7.0" stroke-linecap="butt"/>
<line x1="946.0" y1="181.0" x2="1037.0" y2="207.0" stroke="url(#g52)" stroke-width="6.0" stroke-linecap="butt"/>
<line x1="1124.0" y1="245.5" x2="1192.0" y2="261.5" stroke="url(#g53)" stroke-width="9.4" stroke-linecap="butt"/>
<line x1="1197.0" y1="263.5" x2="1245.0" y2="275.0" stroke="url(#g54)" stroke-width="8.8" stroke-linecap="butt"/>
<line x1="1250.0" y1="277.0" x2="1284.0" y2="284.6" stroke="url(#g55)" stroke-width="8.4" stroke-linecap="butt"/>
<path d="M1280,283.7 Q1290.7,286 1290.7,296 L1290.7,300" fill="none" stroke="#747474" stroke-width="8.2"/>
<path d="M1280,282.9 Q1291.3,285.2 1291.3,296 L1291.3,300" fill="none" stroke="#b2b2b2" stroke-width="4.2"/>
<circle cx="819.0" cy="138.5" r="3.6" fill="#2e2e2e"/>
<circle cx="946.0" cy="181.0" r="3.2" fill="#2e2e2e"/>
<line x1="822.0" y1="137.5" x2="872.0" y2="152.5" stroke="url(#g56)" stroke-width="3.0" stroke-linecap="butt"/>
<line x1="948.0" y1="179.5" x2="990.0" y2="192.0" stroke="url(#g57)" stroke-width="2.8" stroke-linecap="butt"/>
<circle cx="1124.5" cy="245.5" r="3.6" fill="#2e2e2e"/>
<circle cx="1192.4" cy="261.5" r="2.8" fill="#4a4a4a"/>
<circle cx="1191.8" cy="260.7" r="1.1" fill="#9a9a9a"/>
<circle cx="1198.5" cy="264.0" r="2.8" fill="#4a4a4a"/>
<circle cx="1197.9" cy="263.2" r="1.1" fill="#9a9a9a"/>
<circle cx="1245.0" cy="275.0" r="2.8" fill="#4a4a4a"/>
<circle cx="1244.4" cy="274.2" r="1.1" fill="#9a9a9a"/>
<circle cx="1250.5" cy="277.3" r="2.8" fill="#4a4a4a"/>
<circle cx="1249.9" cy="276.5" r="1.1" fill="#9a9a9a"/>
</g>
<g id="front">
<line x1="737.4" y1="126.2" x2="737.4" y2="175.7" stroke="url(#g58)" stroke-width="4.9" stroke-linecap="butt"/>
<line x1="592.8" y1="180.4" x2="885.0" y2="170.9" stroke="url(#g59)" stroke-width="4.3" stroke-linecap="butt"/>
<line x1="622.8" y1="93.5" x2="622.8" y2="147.8" stroke="url(#g60)" stroke-width="5.2" stroke-linecap="butt"/>
<line x1="466.9" y1="153.4" x2="781.9" y2="142.2" stroke="url(#g61)" stroke-width="4.6" stroke-linecap="butt"/>
<polyline points="143,577 277,420.5 432,257" fill="none" stroke="#5a5a5a" stroke-width="1.2"/>
<polyline points="145.8,220.5 192.9,280 431,559" fill="none" stroke="#5a5a5a" stroke-width="1.2"/>
<polyline points="1054.5,234 987,380 873,590" fill="none" stroke="#5a5a5a" stroke-width="1.2"/>
<polyline points="872.5,194 966.4,373 1056.5,564" fill="none" stroke="#5a5a5a" stroke-width="1.2"/>
<line x1="873" y1="195" x2="879" y2="206.5" stroke="#8a8a8a" stroke-width="2.6"/>
<line x1="1054" y1="235" x2="1049.5" y2="245" stroke="#8a8a8a" stroke-width="2.4"/>
<line x1="147.5" y1="223" x2="155" y2="232.5" stroke="#8a8a8a" stroke-width="2.8"/>
<line x1="432" y1="256.2" x2="425" y2="264" stroke="#8a8a8a" stroke-width="2.4"/>
<line x1="1060.0" y1="231.0" x2="1060.4" y2="574.0" stroke="url(#g62)" stroke-width="10.5" stroke-linecap="butt"/>
<line x1="1060.0" y1="231.0" x2="1060.0" y2="258.0" stroke="url(#g63)" stroke-width="10.5" stroke-linecap="butt"/>
<line x1="1060.3" y1="474.5" x2="1060.3" y2="495.1" stroke="#9c9c9c" stroke-width="11.5" opacity="0.16"/>
<line x1="1055.0" y1="474.5" x2="1065.5" y2="474.5" stroke="#777" stroke-width="0.8"/>
<line x1="1055.0" y1="495.1" x2="1065.5" y2="495.1" stroke="#777" stroke-width="0.8"/>
<line x1="972.0" y1="208.0" x2="973.0" y2="586.0" stroke="url(#g64)" stroke-width="11.5" stroke-linecap="butt"/>
<line x1="972.0" y1="208.0" x2="972.1" y2="235.0" stroke="url(#g65)" stroke-width="11.5" stroke-linecap="butt"/>
<line x1="972.7" y1="476.4" x2="972.7" y2="499.1" stroke="#9c9c9c" stroke-width="12.5" opacity="0.16"/>
<line x1="967.0" y1="476.4" x2="978.5" y2="476.4" stroke="#777" stroke-width="0.8"/>
<line x1="967.0" y1="499.1" x2="978.5" y2="499.1" stroke="#777" stroke-width="0.8"/>
<line x1="436.0" y1="247.0" x2="435.0" y2="560.0" stroke="url(#g66)" stroke-width="9.5" stroke-linecap="butt"/>
<line x1="436.0" y1="247.0" x2="435.9" y2="273.0" stroke="url(#g67)" stroke-width="9.5" stroke-linecap="butt"/>
<line x1="435.3" y1="469.2" x2="435.3" y2="488.0" stroke="#9c9c9c" stroke-width="10.5" opacity="0.16"/>
<line x1="430.5" y1="469.2" x2="440.0" y2="469.2" stroke="#777" stroke-width="0.8"/>
<line x1="430.5" y1="488.0" x2="440.0" y2="488.0" stroke="#777" stroke-width="0.8"/>
<line x1="300.0" y1="229.0" x2="299.0" y2="570.0" stroke="url(#g68)" stroke-width="10.5" stroke-linecap="butt"/>
<line x1="300.0" y1="229.0" x2="299.9" y2="257.0" stroke="url(#g69)" stroke-width="10.5" stroke-linecap="butt"/>
<line x1="299.3" y1="471.1" x2="299.3" y2="491.6" stroke="#9c9c9c" stroke-width="11.5" opacity="0.16"/>
<line x1="294.0" y1="471.1" x2="304.5" y2="471.1" stroke="#777" stroke-width="0.8"/>
<line x1="294.0" y1="491.6" x2="304.5" y2="491.6" stroke="#777" stroke-width="0.8"/>
<line x1="140.0" y1="584.5" x2="443.0" y2="560.5" stroke="url(#g70)" stroke-width="6.0" stroke-linecap="butt"/>
<line x1="874.0" y1="603.6" x2="972.0" y2="588.4" stroke="url(#g71)" stroke-width="9.8" stroke-linecap="butt"/>
<line x1="972.0" y1="588.4" x2="1068.0" y2="574.5" stroke="url(#g72)" stroke-width="8.2" stroke-linecap="butt"/>
<ellipse cx="435.0" cy="562.0" rx="10.0" ry="1.4" fill="#6a6a6a"/>
<ellipse cx="299.0" cy="571.5" rx="9.0" ry="1.3" fill="#6a6a6a"/>
<ellipse cx="978.0" cy="593.2" rx="15.0" ry="1.4" fill="#6a6a6a"/>
<ellipse cx="1068.0" cy="579.6" rx="12.0" ry="1.4" fill="#6a6a6a"/>
<circle cx="1066.0" cy="574.0" r="3.6" fill="#777"/>
<line x1="157.0" y1="204.0" x2="729.0" y2="113.0" stroke="#8a8a8a" stroke-width="0.80"/>
<line x1="478.0" y1="57.0" x2="434.0" y2="247.0" stroke="#333" stroke-width="1.00"/>
<line x1="436.0" y1="247.0" x2="729.0" y2="117.0" stroke="url(#g73)" stroke-width="9.5" stroke-linecap="butt"/>
<line x1="436.0" y1="247.0" x2="471.2" y2="231.4" stroke="url(#g74)" stroke-width="9.9" stroke-linecap="butt"/>
<line x1="562.0" y1="191.1" x2="600.1" y2="174.2" stroke="url(#g75)" stroke-width="9.9" stroke-linecap="butt"/>
<line x1="300.0" y1="229.0" x2="612.0" y2="84.0" stroke="url(#g76)" stroke-width="10.0" stroke-linecap="butt"/>
<line x1="300.0" y1="229.0" x2="337.4" y2="211.6" stroke="url(#g77)" stroke-width="10.4" stroke-linecap="butt"/>
<line x1="434.2" y1="166.7" x2="474.7" y2="147.8" stroke="url(#g78)" stroke-width="10.4" stroke-linecap="butt"/>
<line x1="320.0" y1="122.0" x2="470.0" y2="148.0" stroke="url(#g79)" stroke-width="6.6" stroke-linecap="butt"/>
<line x1="470.0" y1="148.0" x2="597.0" y2="171.0" stroke="url(#g80)" stroke-width="6.0" stroke-linecap="butt"/>
<line x1="597.0" y1="171.0" x2="618.0" y2="176.0" stroke="url(#g81)" stroke-width="5.0" stroke-linecap="butt"/>
<line x1="146.0" y1="209.0" x2="300.0" y2="230.5" stroke="url(#g82)" stroke-width="7.0" stroke-linecap="butt"/>
<line x1="300.0" y1="230.5" x2="436.0" y2="248.5" stroke="url(#g83)" stroke-width="6.0" stroke-linecap="butt"/>
<circle cx="441.0" cy="250.0" r="2.8" fill="#777"/>
<line x1="492.0" y1="48.0" x2="612.0" y2="83.0" stroke="url(#g84)" stroke-width="6.5" stroke-linecap="butt"/>
<line x1="612.0" y1="83.0" x2="729.0" y2="116.5" stroke="url(#g85)" stroke-width="6.5" stroke-linecap="butt"/>
<line x1="729.0" y1="117.0" x2="1054.0" y2="224.0" stroke="url(#g86)" stroke-width="11.0" stroke-linecap="butt"/>
<line x1="612.0" y1="84.0" x2="966.0" y2="200.5" stroke="url(#g87)" stroke-width="11.5" stroke-linecap="butt"/>
<line x1="609.0" y1="80.5" x2="657.0" y2="95.0" stroke="url(#g88)" stroke-width="3.2" stroke-linecap="butt"/>
<line x1="726.0" y1="113.0" x2="766.0" y2="125.0" stroke="url(#g89)" stroke-width="3.2" stroke-linecap="butt"/>
<line x1="668.0" y1="113.0" x2="780.0" y2="141.0" stroke="url(#g90)" stroke-width="6.0" stroke-linecap="butt"/>
<line x1="780.0" y1="141.0" x2="884.0" y2="168.0" stroke="url(#g91)" stroke-width="5.5" stroke-linecap="butt"/>
<line x1="877.0" y1="185.5" x2="970.4" y2="207.0" stroke="url(#g92)" stroke-width="10.0" stroke-linecap="butt"/>
<line x1="982.0" y1="211.0" x2="1058.0" y2="229.5" stroke="url(#g93)" stroke-width="9.0" stroke-linecap="butt"/>
<circle cx="877.0" cy="185.0" r="4.6" fill="#444"/>
<circle cx="876.2" cy="184.0" r="1.8" fill="#9a9a9a"/>
<circle cx="970.4" cy="206.8" r="4.2" fill="#444"/>
<circle cx="969.6" cy="205.8" r="1.7" fill="#9a9a9a"/>
<circle cx="982.0" cy="211.0" r="3.8" fill="#444"/>
<circle cx="981.2" cy="210.0" r="1.5" fill="#9a9a9a"/>
<circle cx="1057.7" cy="229.0" r="4.0" fill="#444"/>
<circle cx="1056.9" cy="228.0" r="1.6" fill="#9a9a9a"/>
<circle cx="1067.0" cy="232.5" r="3.6" fill="#444"/>
<circle cx="1066.2" cy="231.5" r="1.4" fill="#9a9a9a"/>
<line x1="322.0" y1="126.0" x2="662.0" y2="110.5" stroke="url(#g94)" stroke-width="4.6" stroke-linecap="butt"/>
<line x1="485.0" y1="58.0" x2="485.0" y2="117.0" stroke="url(#g95)" stroke-width="5.0" stroke-linecap="butt"/>
<line x1="462.0" y1="63.5" x2="507.0" y2="61.5" stroke="url(#g96)" stroke-width="2.6" stroke-linecap="butt"/>
<line x1="663.0" y1="115.0" x2="660.5" y2="602.0" stroke="url(#g97)" stroke-width="12.4" stroke-linecap="butt"/>
<line x1="661.1" y1="477.8" x2="661.1" y2="504.6" stroke="#9c9c9c" stroke-width="13.4" opacity="0.16"/>
<line x1="654.9" y1="477.8" x2="667.3" y2="477.8" stroke="#777" stroke-width="0.8"/>
<line x1="654.9" y1="504.6" x2="667.3" y2="504.6" stroke="#777" stroke-width="0.8"/>
<line x1="663.0" y1="114.5" x2="663.0" y2="121.5" stroke="url(#g98)" stroke-width="12.4" stroke-linecap="butt"/>
<line x1="662.6" y1="182.0" x2="662.5" y2="223.0" stroke="url(#g99)" stroke-width="13.8" stroke-linecap="butt"/>
<line x1="315.0" y1="134.0" x2="310.8" y2="592.0" stroke="url(#g100)" stroke-width="11.6" stroke-linecap="butt"/>
<line x1="311.8" y1="479.8" x2="311.8" y2="502.7" stroke="#9c9c9c" stroke-width="12.6" opacity="0.16"/>
<line x1="306.0" y1="479.8" x2="317.6" y2="479.8" stroke="#777" stroke-width="0.8"/>
<line x1="306.0" y1="502.7" x2="317.6" y2="502.7" stroke="#777" stroke-width="0.8"/>
<line x1="866.0" y1="191.0" x2="866.5" y2="602.0" stroke="url(#g101)" stroke-width="12.5" stroke-linecap="butt"/>
<line x1="866.4" y1="499.2" x2="866.4" y2="517.7" stroke="#9c9c9c" stroke-width="13.5" opacity="0.16"/>
<line x1="860.1" y1="499.2" x2="872.6" y2="499.2" stroke="#777" stroke-width="0.8"/>
<line x1="860.1" y1="517.7" x2="872.6" y2="517.7" stroke="#777" stroke-width="0.8"/>
<line x1="138.4" y1="216.0" x2="136.4" y2="590.0" stroke="url(#g102)" stroke-width="11.5" stroke-linecap="butt"/>
<line x1="138.4" y1="216.0" x2="138.3" y2="242.0" stroke="url(#g103)" stroke-width="11.5" stroke-linecap="butt"/>
<line x1="137.0" y1="481.5" x2="137.0" y2="504.0" stroke="#9c9c9c" stroke-width="12.5" opacity="0.16"/>
<line x1="131.2" y1="481.5" x2="142.7" y2="481.5" stroke="#777" stroke-width="0.8"/>
<line x1="131.2" y1="504.0" x2="142.7" y2="504.0" stroke="#777" stroke-width="0.8"/>
<line x1="491.0" y1="50.1" x2="857.0" y2="174.5" stroke="url(#g104)" stroke-width="12.5" stroke-linecap="butt"/>
<line x1="607.6" y1="89.7" x2="671.4" y2="111.4" stroke="url(#g105)" stroke-width="12.9" stroke-linecap="butt"/>
<path d="M826,164 L853,173.2 Q866,177.6 866,191 L866,216" fill="none" stroke="#6e6e6e" stroke-width="12.6"/>
<path d="M826,163.4 L853.5,172.6 Q866.8,177 866.8,191 L866.8,216" fill="none" stroke="#9c9c9c" stroke-width="8.6"/>
<path d="M826,161.9 L854,171 Q868,175.8 868,191 L868,216" fill="none" stroke="#c9c9c9" stroke-width="3.6"/>
<line x1="147.0" y1="201.8" x2="474.0" y2="51.0" stroke="url(#g106)" stroke-width="10.4" stroke-linecap="butt"/>
<path d="M138.3,240 L138.3,214 Q138.3,205.3 147,201.5 L160,195.5" fill="none" stroke="#4e4e4e" stroke-width="11.4"/>
<path d="M137.8,240 L137.8,214 Q137.8,204.8 146.5,201 L160,194.8" fill="none" stroke="#7c7c7c" stroke-width="6.4"/>
<path d="M137,240 L137,214 Q137,204 146,200 L160,193.6" fill="none" stroke="#a2a2a2" stroke-width="2.6"/>
<line x1="294.4" y1="133.8" x2="324.6" y2="119.9" stroke="url(#g107)" stroke-width="10.8" stroke-linecap="butt"/>
<path d="M441.5,65.8 L472,51.7 Q482.3,46.5 493,50.6 L517,58.9" fill="none" stroke="#484848" stroke-width="11.6" stroke-linejoin="round"/>
<path d="M441.5,65 L472,50.9 Q482.3,45.6 493,49.8 L517,58.1" fill="none" stroke="#747474" stroke-width="7.4" stroke-linejoin="round"/>
<path d="M441.5,63.4 L471.5,49.5 Q482.3,44 493.5,48.3 L517,56.4" fill="none" stroke="#999" stroke-width="3" stroke-linejoin="round"/>
<circle cx="446.5" cy="62.5" r="1.5" fill="#bbb"/>
<circle cx="508.5" cy="58.5" r="1.5" fill="#bbb"/>
<line x1="137.0" y1="586.6" x2="306.0" y2="590.8" stroke="url(#g108)" stroke-width="8.4" stroke-linecap="butt"/>
<line x1="137.0" y1="586.6" x2="157.0" y2="587.1" stroke="url(#g109)" stroke-width="8.8" stroke-linecap="butt"/>
<line x1="285.0" y1="590.3" x2="306.0" y2="590.8" stroke="url(#g110)" stroke-width="8.8" stroke-linecap="butt"/>
<line x1="662.0" y1="599.6" x2="866.0" y2="604.3" stroke="url(#g111)" stroke-width="9.6" stroke-linecap="butt"/>
<line x1="667.0" y1="599.7" x2="686.0" y2="600.2" stroke="url(#g112)" stroke-width="10.0" stroke-linecap="butt"/>
<line x1="838.0" y1="603.6" x2="858.0" y2="604.1" stroke="url(#g113)" stroke-width="10.0" stroke-linecap="butt"/>
<rect x="130.6" y="577" width="11.6" height="14.6" fill="#6c6c6c"/>
<rect x="304.8" y="581" width="11.4" height="14.2" fill="#707070"/>
<rect x="654.3" y="589.5" width="12.6" height="14.5" fill="#707070"/>
<ellipse cx="136.0" cy="592.6" rx="21.0" ry="1.6" fill="#6a6a6a"/>
<ellipse cx="310.0" cy="596.3" rx="21.0" ry="1.6" fill="#6a6a6a"/>
<ellipse cx="661.0" cy="605.2" rx="22.0" ry="1.6" fill="#6a6a6a"/>
<ellipse cx="868.0" cy="609.0" rx="20.0" ry="1.8" fill="#6a6a6a"/>
</g>
<g id="labels" opacity="0.999">
<line x1="60.6" y1="53.8" x2="60.6" y2="580.8" stroke="#444444" stroke-width="4.9"/>
<polygon points="60.6,39.3 53.1,54.8 68.1,54.8" fill="#444444"/>
<polygon points="60.6,595.3 53.1,579.8 68.1,579.8" fill="#444444"/>
<rect x="14.0" y="300.0" width="94.0" height="39.5" rx="9" fill="#fff"/>
<text x="60.9" y="328.0" font-size="23.8" fill="#333" text-anchor="middle">3,96 m</text>
<line x1="1347.5" y1="297.0" x2="1347.5" y2="531.0" stroke="#444444" stroke-width="4.8"/>
<polygon points="1347.5,282.5 1340.0,298.0 1355.0,298.0" fill="#444444"/>
<polygon points="1347.5,545.5 1340.0,530.0 1355.0,530.0" fill="#444444"/>
<rect x="1307.0" y="392.5" width="82.0" height="41.0" rx="9" fill="#fff"/>
<text x="1348.0" y="421.3" font-size="23.8" fill="#333" text-anchor="middle">2,5 m</text>
<line x1="131.9" y1="636.8" x2="441.0" y2="644.6" stroke="#444444" stroke-width="5.5"/>
<polygon points="117.4,636.4 132.7,644.3 133.1,629.3" fill="#444444"/>
<line x1="531.0" y1="649.2" x2="840.2" y2="657.2" stroke="#444444" stroke-width="5.5"/>
<polygon points="854.7,657.6 839.0,664.7 839.4,649.7" fill="#444444"/>
<rect x="441.0" y="627.0" width="90.0" height="38.0" rx="9" fill="#fff"/>
<text x="486.0" y="651.3" font-size="23.8" fill="#333" text-anchor="middle">8 m</text>
<line x1="911.8" y1="653.3" x2="1058.5" y2="625.2" stroke="#444444" stroke-width="5.4"/>
<polygon points="897.6,656.0 914.2,660.5 911.4,645.7" fill="#444444"/>
<line x1="1146.0" y1="607.2" x2="1292.0" y2="580.8" stroke="#444444" stroke-width="5.4"/>
<polygon points="1306.3,578.2 1292.4,588.3 1289.7,573.6" fill="#444444"/>
<rect x="1058.0" y="595.0" width="89.0" height="40.0" rx="9" fill="#fff"/>
<text x="1101.5" y="621.5" font-size="23.8" fill="#333" text-anchor="middle">24 m</text>
<line x1="268.6" y1="169.0" x2="268.6" y2="355.7" stroke="#d20a0a" stroke-width="5"/>
<line x1="268.6" y1="395.0" x2="268.6" y2="577.5" stroke="#d20a0a" stroke-width="5"/>
<polygon points="268.6,155.0 261.4,170.0 275.9,170.0" fill="#d20a0a"/>
<polygon points="268.6,591.5 261.4,576.5 275.9,576.5" fill="#d20a0a"/>
<rect x="226.5" y="358.0" width="83.5" height="33.5" rx="9" fill="#fff"/>
<text x="268.8" y="381.6" font-size="19.7" fill="#d20a0a" text-anchor="middle">3,09 m</text>
<line x1="343.0" y1="575.9" x2="615.0" y2="584.1" stroke="#d20a0a" stroke-width="5"/>
<polygon points="329.0,575.5 343.8,583.2 344.2,568.7" fill="#d20a0a"/>
<polygon points="629.0,584.5 613.8,591.3 614.2,576.8" fill="#d20a0a"/>
<rect x="434.0" y="563.0" width="91.5" height="33.0" rx="9" fill="#fff"/>
<text x="478.8" y="584.6" font-size="19.7" fill="#d20a0a" text-anchor="middle">4,06 m</text>
<circle cx="232.0" cy="165.0" r="16.8" fill="#323232"/>
<text x="232.0" y="172.6" font-size="21.5" fill="#fff" text-anchor="middle">1</text>
<circle cx="326.0" cy="123.0" r="16.8" fill="#323232"/>
<text x="326.0" y="130.6" font-size="21.5" fill="#fff" text-anchor="middle">2</text>
<circle cx="483.5" cy="92.5" r="16.8" fill="#323232"/>
<text x="483.5" y="100.1" font-size="21.5" fill="#fff" text-anchor="middle">3</text>
<circle cx="446.0" cy="203.5" r="16.8" fill="#323232"/>
<text x="446.0" y="211.1" font-size="21.5" fill="#fff" text-anchor="middle">8</text>
<circle cx="346.4" cy="349.0" r="16.8" fill="#323232"/>
<text x="346.4" y="356.6" font-size="21.5" fill="#fff" text-anchor="middle">9</text>
<circle cx="663.0" cy="427.0" r="16.8" fill="#323232"/>
<text x="663.0" y="434.6" font-size="21.5" fill="#fff" text-anchor="middle">5</text>
<circle cx="865.0" cy="476.0" r="16.8" fill="#323232"/>
<text x="865.0" y="483.6" font-size="21.5" fill="#fff" text-anchor="middle">4</text>
<circle cx="755.7" cy="601.5" r="16.8" fill="#323232"/>
<text x="755.7" y="609.1" font-size="21.5" fill="#fff" text-anchor="middle">6</text>
<circle cx="864.0" cy="604.5" r="16.8" fill="#323232"/>
<text x="864.0" y="612.1" font-size="21.5" fill="#fff" text-anchor="middle">7</text>
</g>
</svg>
</body></html>
